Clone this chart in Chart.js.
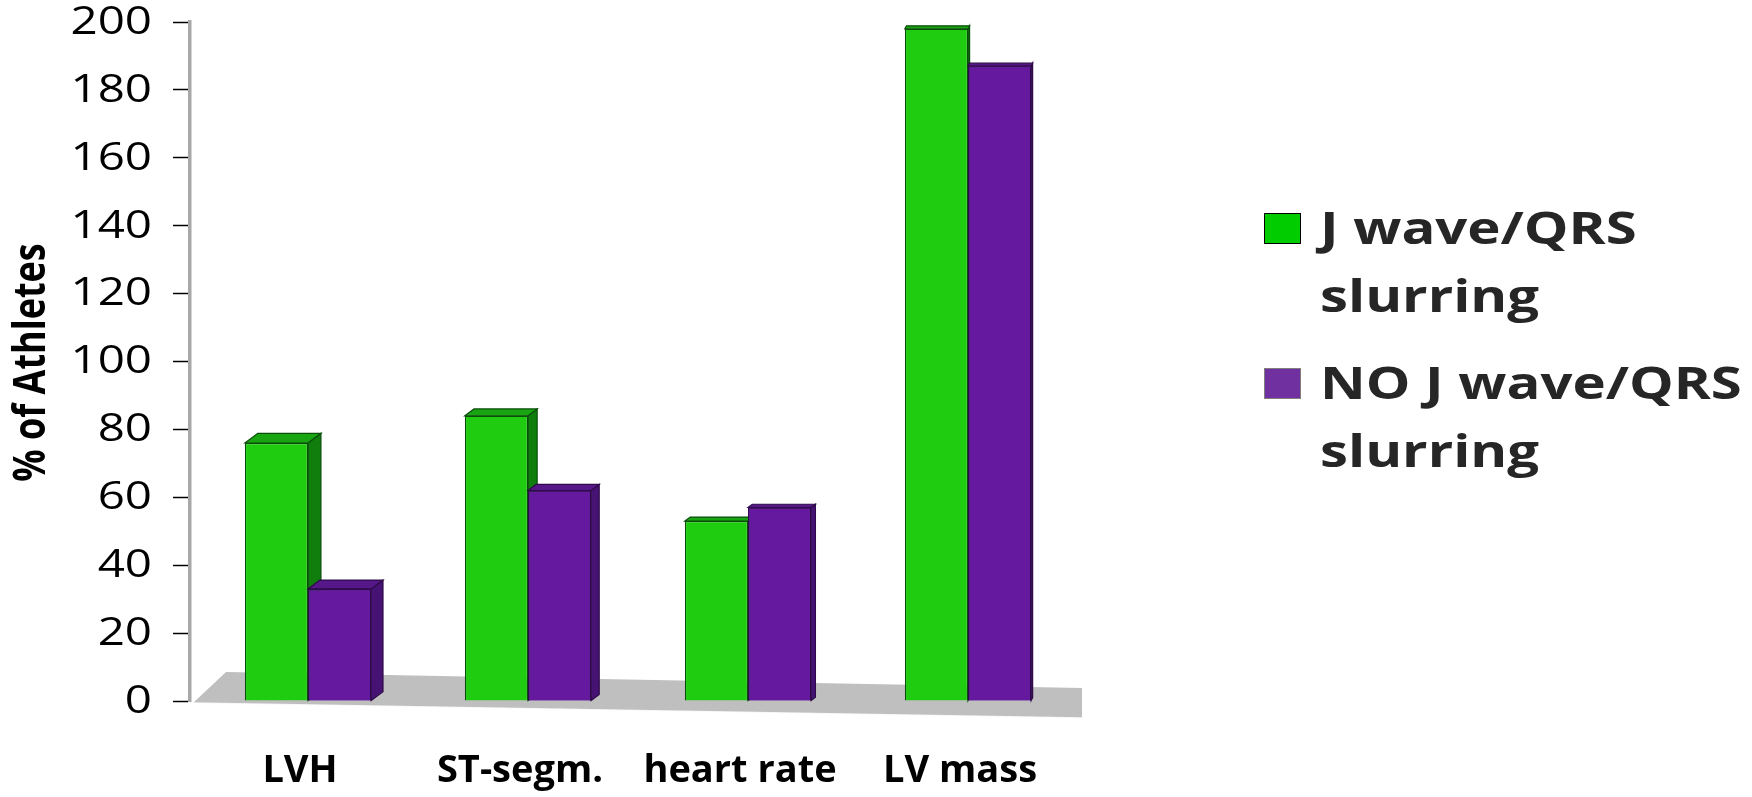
<!DOCTYPE html>
<html>
<head>
<meta charset="utf-8">
<script src="https://cdn.jsdelivr.net/npm/chart.js@4.4.1/dist/chart.umd.min.js"></script>
<style>
  html, body { margin: 0; padding: 0; background: #fff; }
  #wrap { position: relative; width: 1752px; height: 797px; }
  #chart { position: absolute; left: 0; top: 0; }
  .legend-item { position: absolute; left: 1264px; width: 460px; }
  .legend-box { position: absolute; left: 0; top: 20px; width: 37px; height: 31px; box-sizing: border-box; }
  .legend-text {
    position: absolute; left: 56px; top: 0; width: 345px;
    font: bold 45px/68px "Open Sans", sans-serif; color: #262626;
    transform: scaleX(1.25); transform-origin: 0 0; white-space: normal;
  }
</style>
</head>
<body>
<div id="wrap">
  <canvas id="chart" width="1752" height="797"></canvas>
  <div id="legend"></div>
</div>
<script>
// Categories and the two series (% of athletes)
const categories = ['LVH', 'ST-segm.', 'heart rate', 'LV mass'];
const withJWave = [76, 84, 53, 198];
const noJWave = [33, 62, 57, 187];
const seriesNames = ['J wave/QRS slurring', 'NO J wave/QRS slurring'];
const yTicks = [0, 20, 40, 60, 80, 100, 120, 140, 160, 180, 200];
const yTitle = '% of Athletes';

// Face colours for the pseudo-3D columns
const faceStyles = [
  { front: '#1fcc10', side: '#107e0c', top: '#19a412', edge: '#0b4d0b', legend: '#00cc00', legendEdge: '#000000' },
  { front: '#64199e', side: '#461273', top: '#561788', edge: '#2e0a4a', legend: '#7030a0', legendEdge: '#7f7f7f' }
];

const WIDE = 1.25; // horizontal stretch of the value-axis lettering

function drawFaces(ctx, bar, st) {
  const p = bar.getProps(['x', 'y', 'base', 'width'], true);
  const l = p.x - p.width / 2, r = p.x + p.width / 2;
  const dx = Math.max(1.5, 0.0172 * (1060 - r));
  const dy = Math.max(3, dx * 0.75);
  ctx.save();
  ctx.lineWidth = 1.2;
  ctx.strokeStyle = st.edge;
  // right-hand side face
  ctx.fillStyle = st.side;
  ctx.beginPath();
  ctx.moveTo(r, p.y);
  ctx.lineTo(r + dx, p.y - dy);
  ctx.lineTo(r + dx, p.base - dy);
  ctx.lineTo(r, p.base);
  ctx.closePath();
  ctx.fill();
  ctx.stroke();
  // top face
  ctx.fillStyle = st.top;
  ctx.beginPath();
  ctx.moveTo(l, p.y);
  ctx.lineTo(l + dx, p.y - dy);
  ctx.lineTo(r + dx, p.y - dy);
  ctx.lineTo(r, p.y);
  ctx.closePath();
  ctx.fill();
  ctx.stroke();
  ctx.restore();
}

// Floor, column depth, and the widened value-axis lettering
const depthPlugin = {
  id: 'columnDepth',
  afterLayout(chart) {
    // the category band sits slightly inside the value axis
    const xs = chart.scales.x;
    xs.left = chart.chartArea.left + 8;
    xs.right = chart.chartArea.right - 4;
    xs.width = xs.right - xs.left;
    xs.configure();
  },
  beforeDatasetsDraw(chart) {
    const { ctx, chartArea } = chart;
    const b = chart.scales.y.getPixelForValue(0);
    ctx.save();
    ctx.fillStyle = '#bfbfbf';
    ctx.beginPath();
    ctx.moveTo(chartArea.left + 3, b + 2);
    ctx.lineTo(chartArea.left + 36, b - 29);
    ctx.lineTo(chartArea.right, b - 13);
    ctx.lineTo(chartArea.right, b + 17);
    ctx.closePath();
    ctx.fill();
    ctx.strokeStyle = 'rgba(255,255,255,0.85)';
    ctx.lineWidth = 1.5;
    ctx.beginPath();
    ctx.moveTo(chartArea.left + 3, b + 2);
    ctx.lineTo(chartArea.right, b + 17);
    ctx.stroke();
    ctx.restore();
  },
  afterDatasetsDraw(chart) {
    const { ctx } = chart;
    const front = chart.getDatasetMeta(0);
    const back = chart.getDatasetMeta(1);
    front.data.forEach(bar => drawFaces(ctx, bar, faceStyles[0]));
    back.data.forEach(bar => { bar.draw(ctx); drawFaces(ctx, bar, faceStyles[1]); });
  },
  afterDraw(chart) {
    const { ctx, chartArea } = chart;
    const ys = chart.scales.y;
    ctx.save();
    ctx.fillStyle = '#000';
    ctx.font = '38px "Open Sans", sans-serif';
    ctx.textAlign = 'right';
    ctx.textBaseline = 'middle';
    const xr = chartArea.left - 38;
    ys.ticks.forEach(t => {
      ctx.save();
      ctx.translate(xr, ys.getPixelForValue(t.value) + 1);
      ctx.scale(WIDE, 1);
      ctx.fillText(String(t.value), 0, 0);
      ctx.restore();
    });
    // rotated axis title
    ctx.translate(32, (chartArea.top + chartArea.bottom) / 2 + 1);
    ctx.rotate(-Math.PI / 2);
    ctx.scale(1, WIDE);
    ctx.font = 'bold 36px "Open Sans", sans-serif';
    ctx.textAlign = 'center';
    ctx.fillText(yTitle, 0, 0);
    ctx.restore();
  }
};

function buildLegend() {
  const host = document.getElementById('legend');
  seriesNames.forEach((name, i) => {
    const item = document.createElement('div');
    item.className = 'legend-item';
    item.style.top = (193 + i * 155) + 'px';
    const box = document.createElement('div');
    box.className = 'legend-box';
    box.style.background = faceStyles[i].legend;
    box.style.border = '1.5px solid ' + faceStyles[i].legendEdge;
    const txt = document.createElement('div');
    txt.className = 'legend-text';
    txt.textContent = name;
    item.appendChild(box);
    item.appendChild(txt);
    host.appendChild(item);
  });
}

function draw() {
  new Chart(document.getElementById('chart'), {
    type: 'bar',
    data: {
      labels: categories,
      datasets: [
        { label: seriesNames[0], data: withJWave, backgroundColor: faceStyles[0].front,
          borderColor: faceStyles[0].edge, borderWidth: 1.2 },
        { label: seriesNames[1], data: noJWave, backgroundColor: faceStyles[1].front,
          borderColor: faceStyles[1].edge, borderWidth: 1.2 }
      ]
    },
    options: {
      responsive: false,
      animation: false,
      layout: { padding: { left: 0, right: 670, top: 22, bottom: 0 } },
      datasets: { bar: { barPercentage: 1.0, categoryPercentage: 0.574 } },
      plugins: { legend: { display: false }, tooltip: { enabled: false } },
      scales: {
        x: {
          grid: { display: false },
          border: { display: false },
          ticks: {
            color: '#000',
            font: { family: '"Open Sans", sans-serif', size: 38, weight: 'bold' },
            padding: 39,
            labelOffset: -8,
            maxRotation: 0
          },
          afterFit(s) { s.height = 96; }
        },
        y: {
          min: 0, max: 200,
          afterBuildTicks(s) { s.ticks = yTicks.map(v => ({ value: v })); },
          grid: { drawOnChartArea: false, drawTicks: true, tickLength: 17, tickColor: '#000', tickWidth: 1.5 },
          border: { display: true, color: '#a8a8a8', width: 3.5 },
          ticks: { display: false },
          title: { display: false },
          afterFit(s) { s.width = 190; }
        }
      }
    },
    plugins: [depthPlugin]
  });
}

buildLegend();
Promise.all([
  document.fonts.load('38px "Open Sans"'),
  document.fonts.load('bold 38px "Open Sans"')
]).then(draw, draw);
</script>
</body>
</html>
